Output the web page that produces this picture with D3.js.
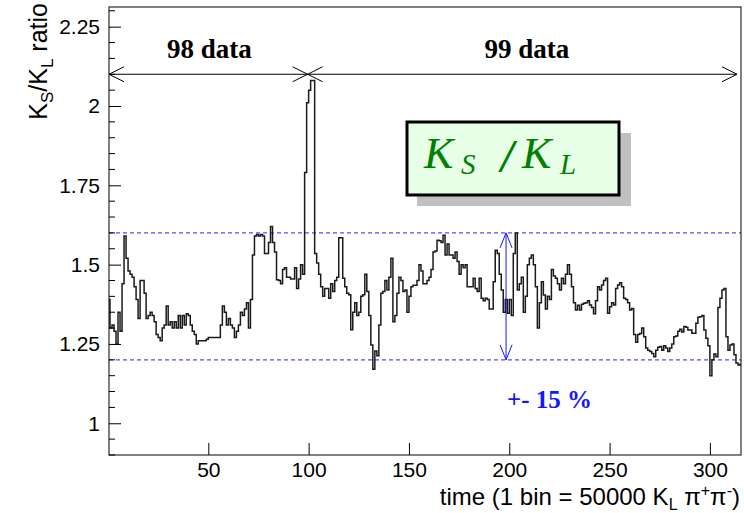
<!DOCTYPE html>
<html><head><meta charset="utf-8">
<script src="https://cdn.jsdelivr.net/npm/d3@7"></script>
<style>body{margin:0;background:#fff}svg{display:block}</style>
</head><body>
<script>
// K_S/K_L ratio per time bin (bin k spans [k, k+1])
const ratio = [
1.39,1.30,1.31,1.29,1.25,1.35,1.29,1.44,1.59,1.52,
1.48,1.47,1.46,1.43,1.39,1.33,1.45,1.45,1.41,1.33,
1.34,1.35,1.34,1.32,1.28,1.27,1.26,1.30,1.31,1.37,
1.31,1.32,1.30,1.32,1.30,1.34,1.30,1.34,1.31,1.345,
1.34,1.31,1.29,1.28,1.25,1.26,1.26,1.26,1.26,1.265,
1.27,1.27,1.27,1.27,1.27,1.27,1.31,1.37,1.35,1.31,
1.33,1.31,1.30,1.27,1.29,1.31,1.35,1.34,1.36,1.38,
1.30,1.39,1.53,1.59,1.595,1.59,1.595,1.59,1.535,1.535,
1.57,1.62,1.57,1.54,1.452,1.45,1.44,1.485,1.49,1.46,
1.46,1.455,1.455,1.49,1.425,1.455,1.50,1.47,1.79,2.01,
2.05,2.08,2.08,1.535,1.505,1.47,1.43,1.40,1.425,1.425,
1.394,1.44,1.415,1.45,1.46,1.585,1.585,1.457,1.43,1.41,
1.405,1.295,1.35,1.38,1.34,1.35,1.40,1.405,1.47,1.415,
1.34,1.247,1.17,1.228,1.213,1.31,1.41,1.415,1.45,1.42,
1.46,1.52,1.32,1.34,1.41,1.46,1.45,1.415,1.42,1.35,
1.40,1.43,1.435,1.435,1.45,1.50,1.48,1.44,1.44,1.45,
1.46,1.485,1.54,1.543,1.577,1.575,1.57,1.593,1.53,1.565,
1.53,1.53,1.52,1.54,1.51,1.47,1.50,1.49,1.50,1.43,
1.43,1.43,1.457,1.425,1.415,1.457,1.394,1.386,1.394,1.39,
1.36,1.36,1.446,1.545,1.535,1.47,1.42,1.35,1.39,1.347,
1.39,1.34,1.535,1.60,1.42,1.44,1.46,1.35,1.40,1.50,
1.52,1.53,1.50,1.43,1.30,1.38,1.446,1.404,1.36,1.40,
1.39,1.485,1.464,1.457,1.44,1.42,1.457,1.44,1.47,1.50,
1.47,1.43,1.38,1.357,1.372,1.357,1.375,1.378,1.38,1.386,
1.373,1.365,1.345,1.386,1.43,1.42,1.436,1.45,1.457,1.347,
1.367,1.38,1.373,1.425,1.436,1.443,1.43,1.394,1.39,1.38,
1.357,1.362,1.28,1.255,1.28,1.283,1.30,1.273,1.237,1.23,
1.226,1.22,1.21,1.23,1.24,1.242,1.23,1.244,1.237,1.226,
1.237,1.25,1.273,1.275,1.29,1.296,1.288,1.305,1.303,1.294,
1.294,1.284,1.284,1.315,1.334,1.336,1.34,1.294,1.268,1.244,
1.15,1.20,1.218,1.21,1.365,1.394,1.42,1.425,1.273,1.23,
1.247,1.25,1.216,1.19,1.184,1.186
];
const xTickValues = [50,100,150,200,250,300];
const yTickValues = [1,1.25,1.5,1.75,2,2.25];
const bandLevels = [1.2,1.6];
const periodLabels = ["98 data","99 data"];
const periodEdges = [0.5,99.5,313.5];
const periodLabelX = [50.5,208.8];
const arrowLevel = 2.10;
const bandArrowX = 198.4;
const bandLabel = "+- 15 %";

const W=744,H=513;
const L=109,R=741,T=7,B=455;
const x = d3.scaleLinear().domain([0.5,315.5]).range([L,R]);
const y = d3.scaleLinear().domain([0.9,2.312]).range([B,T]);

const svg = d3.select("body").append("svg").attr("width",W).attr("height",H);
svg.append("rect").attr("width",W).attr("height",H).attr("fill","#fff");

svg.append("defs").append("clipPath").attr("id","clip")
  .append("rect").attr("x",L).attr("y",T).attr("width",R-L).attr("height",B-T);

// dashed band lines
svg.append("g").selectAll("line").data(bandLevels).join("line")
  .attr("x1",L).attr("x2",R).attr("y1",d=>y(d)).attr("y2",d=>y(d))
  .attr("stroke","#5050ff").attr("stroke-width",1.3).attr("stroke-dasharray","4,3");

// histogram
const pts = ratio.map((v,k)=>({k,v}));
pts.push({k:ratio.length,v:ratio[ratio.length-1]});
const line = d3.line().x(d=>x(d.k)).y(d=>y(d.v)).curve(d3.curveStepAfter);
svg.append("path").datum(pts).attr("clip-path","url(#clip)")
  .attr("d",line).attr("fill","none").attr("stroke","#1a1a1a").attr("stroke-width",1.5);

// axes
const font = "'Liberation Sans', Arial, sans-serif";
const ya = svg.append("g").attr("transform",`translate(${L},0)`)
  .call(d3.axisLeft(y).tickValues(yTickValues).tickSize(-12).tickPadding(9).tickFormat(d=>String(d)));
ya.select(".domain").remove();
ya.selectAll("text").attr("font-family",font).attr("font-size",21).attr("fill","#000");
ya.selectAll("line").attr("stroke","#000");
const yMinor = d3.range(18,47).map(i=>+(i*0.05).toFixed(2)).filter(v=>!yTickValues.includes(v));
svg.append("g").selectAll("line").data(yMinor).join("line")
  .attr("x1",L).attr("x2",L+6).attr("y1",d=>y(d)).attr("y2",d=>y(d)).attr("stroke","#000");

const xa = svg.append("g").attr("transform",`translate(0,${B})`)
  .call(d3.axisBottom(x).tickValues(xTickValues).tickSize(-12).tickPadding(7));
xa.select(".domain").remove();
xa.selectAll("text").attr("font-family",font).attr("font-size",21).attr("fill","#000");
xa.selectAll("line").attr("stroke","#000");

svg.append("rect").attr("x",L).attr("y",T).attr("width",R-L).attr("height",B-T)
  .attr("fill","none").attr("stroke","#000").attr("stroke-width",1);

// axis titles
const yt = svg.append("text").attr("transform","translate(47,3) rotate(-90)")
  .attr("text-anchor","end").attr("font-family",font).attr("font-size",25);
yt.append("tspan").text("K");
yt.append("tspan").attr("dy",6).attr("font-size",17).text("S");
yt.append("tspan").attr("dy",-6).text("/K");
yt.append("tspan").attr("dy",6).attr("font-size",17).text("L");
yt.append("tspan").attr("dy",-6).text(" ratio");

const xt = svg.append("text").attr("x",740).attr("y",505)
  .attr("text-anchor","end").attr("font-family",font).attr("font-size",24);
xt.append("tspan").text("time (1 bin = 50000 K");
xt.append("tspan").attr("dy",5).attr("font-size",16).text("L");
xt.append("tspan").attr("dy",-5).text(" \u03c0");
xt.append("tspan").attr("dy",-9).attr("font-size",16).text("+");
xt.append("tspan").attr("dy",9).text("\u03c0");
xt.append("tspan").attr("dy",-9).attr("font-size",16).text("-");
xt.append("tspan").attr("dy",9).text(")");

// arrows
function arrow(g,x1,y1,x2,y2,color,len,half){
  g.append("line").attr("x1",x1).attr("y1",y1).attr("x2",x2).attr("y2",y2)
    .attr("stroke",color).attr("stroke-width",1);
  const ang=Math.atan2(y2-y1,x2-x1);
  [[x2,y2,ang],[x1,y1,ang+Math.PI]].forEach(([px,py,a])=>{
    const bx=px-len*Math.cos(a), by=py-len*Math.sin(a);
    const nx=-Math.sin(a)*half, ny=Math.cos(a)*half;
    g.append("path").attr("d",`M${bx+nx},${by+ny}L${px},${py}L${bx-nx},${by-ny}`)
      .attr("fill","none").attr("stroke",color).attr("stroke-width",1);
  });
}
const serif="'Liberation Serif', 'Times New Roman', serif";
const ag = svg.append("g");
for(let i=0;i<periodLabels.length;i++){
  arrow(ag,x(periodEdges[i]),y(arrowLevel),x(periodEdges[i+1]),y(arrowLevel),"#000",15,7.5);
  svg.append("text").attr("x",x(periodLabelX[i])).attr("y",58).attr("text-anchor","middle")
    .attr("font-family",serif).attr("font-weight","bold")
    .attr("font-size",27).text(periodLabels[i]);
}
arrow(ag,x(bandArrowX),y(bandLevels[1]),x(bandArrowX),y(bandLevels[0]),"#1515ff",15,6);
svg.append("text").attr("x",x(bandArrowX)+1).attr("y",408)
  .attr("font-family",serif).attr("font-weight","bold")
  .attr("font-size",25).attr("fill","#1515ff").text(bandLabel);

// label box
const bx0=407,by0=122,bw=212,bh=73;
svg.append("rect").attr("x",bx0+10).attr("y",by0+11).attr("width",bw+2).attr("height",bh)
  .attr("fill","#c0c0c0");
svg.append("rect").attr("x",bx0).attr("y",by0).attr("width",bw).attr("height",bh)
  .attr("fill","#e6ffe6").attr("stroke","#000").attr("stroke-width",3);
const g2 = svg.append("g").attr("fill","#008000").attr("font-family",serif).attr("font-style","italic");
g2.append("text").attr("x",424).attr("y",168).attr("font-size",44).text("K");
g2.append("text").attr("x",461).attr("y",174).attr("font-size",29).text("S");
g2.append("text").attr("x",501).attr("y",172).attr("font-size",46).attr("font-weight","bold").text("/");
g2.append("text").attr("x",522).attr("y",168).attr("font-size",44).text("K");
g2.append("text").attr("x",560).attr("y",174).attr("font-size",29).text("L");
</script>
</body></html>
